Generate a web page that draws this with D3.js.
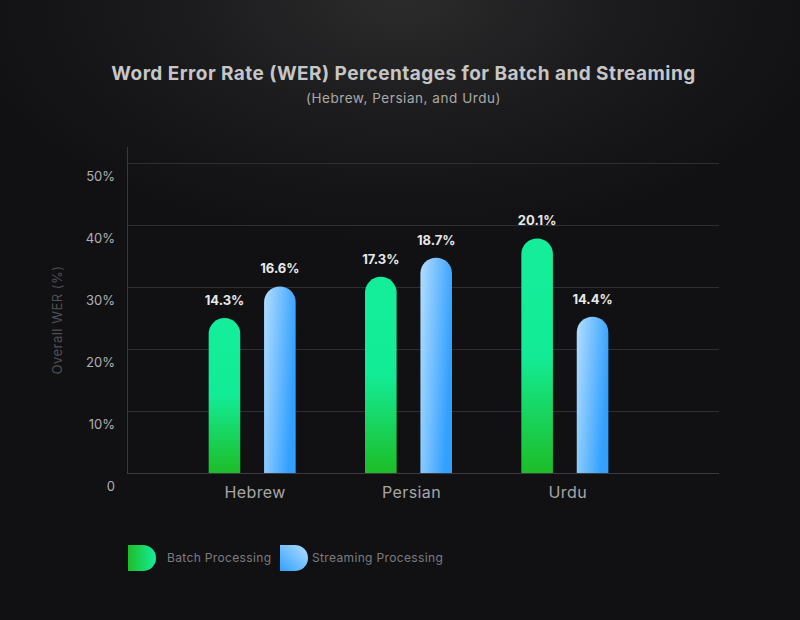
<!DOCTYPE html>
<html>
<head>
<meta charset="utf-8">
<script src="https://cdn.jsdelivr.net/npm/d3@7"></script>
<style>
  html, body { margin: 0; padding: 0; background: #111114; }
  svg { display: block; }
  text { font-family: Inter, "Noto Sans", sans-serif; }
</style>
</head>
<body>
<svg id="chart" width="800" height="620"></svg>
<script>
// ---- data ----
const categories = ["Hebrew", "Persian", "Urdu"];
const seriesNames = ["Batch Processing", "Streaming Processing"];
const batchValues = [14.3, 17.3, 20.1];
const streamingValues = [16.6, 18.7, 14.4];
const yTickValues = [0, 10, 20, 30, 40, 50];
const yTickLabels = ["0", "10%", "20%", "30%", "40%", "50%"];

const titleText = "Word Error Rate (WER) Percentages for Batch and Streaming";
const subtitleText = "(Hebrew, Persian, and Urdu)";
const yAxisTitle = "Overall WER (%)";

// ---- layout ----
const W = 800, H = 620;
const plot = { left: 127, right: 719, top: 163, bottom: 473 };

const svg = d3.select("#chart");
const defs = svg.append("defs");

// background glow
const bg = defs.append("radialGradient").attr("id", "bgGlow")
  .attr("gradientUnits", "userSpaceOnUse")
  .attr("cx", 400).attr("cy", 0).attr("r", 440)
  .attr("gradientTransform", "translate(400,0) scale(1,0.55) translate(-400,0)");
bg.append("stop").attr("offset", "0%").attr("stop-color", "#2b2b2c");
bg.append("stop").attr("offset", "55%").attr("stop-color", "#1a1a1c");
bg.append("stop").attr("offset", "100%").attr("stop-color", "#111114");
svg.append("rect").attr("width", W).attr("height", H).attr("fill", "#111114");
svg.append("rect").attr("width", W).attr("height", H).attr("fill", "url(#bgGlow)");

// bar gradients
const gBatch = defs.append("linearGradient").attr("id", "gBatch")
  .attr("x1", 0).attr("y1", 0).attr("x2", 0).attr("y2", 1);
gBatch.append("stop").attr("offset", "0%").attr("stop-color", "#14ee9b");
gBatch.append("stop").attr("offset", "50%").attr("stop-color", "#13ec96");
gBatch.append("stop").attr("offset", "100%").attr("stop-color", "#1dbd27");

const gStream = defs.append("linearGradient").attr("id", "gStream")
  .attr("x1", 0).attr("y1", 0).attr("x2", 1).attr("y2", 0.35);
gStream.append("stop").attr("offset", "0%").attr("stop-color", "#b3deff");
gStream.append("stop").attr("offset", "100%").attr("stop-color", "#32a0ff");

const gBatchLeg = defs.append("linearGradient").attr("id", "gBatchLeg")
  .attr("x1", 0).attr("y1", 0).attr("x2", 1).attr("y2", 0);
gBatchLeg.append("stop").attr("offset", "0%").attr("stop-color", "#1dbd27");
gBatchLeg.append("stop").attr("offset", "100%").attr("stop-color", "#14ee9b");

const gStreamLeg = defs.append("linearGradient").attr("id", "gStreamLeg")
  .attr("x1", 0).attr("y1", 1).attr("x2", 1).attr("y2", 0);
gStreamLeg.append("stop").attr("offset", "0%").attr("stop-color", "#32a0ff");
gStreamLeg.append("stop").attr("offset", "100%").attr("stop-color", "#b3deff");

const fills = ["url(#gBatch)", "url(#gStream)"];
const legFills = ["url(#gBatchLeg)", "url(#gStreamLeg)"];

// ---- scales ----
const yAxis = d3.scaleLinear().domain([0, 50]).range([plot.bottom, plot.top]);
// bar heights as drawn in the reference design
const yBar = d3.scaleLinear().domain([3.0, 25.6]).range([plot.bottom, plot.top]);
const x0 = d3.scaleBand().domain(categories).range([174, 643]).padding(0);
const x1 = d3.scaleBand().domain(seriesNames).range([-43.5, 43.5]).paddingInner(0.43);

// ---- title ----
svg.append("text").attr("x", 403.5).attr("y", 80).attr("text-anchor", "middle")
  .attr("font-size", 19).attr("font-weight", 700).attr("letter-spacing", 0.45).attr("fill", "#c6c6c6")
  .text(titleText);
svg.append("text").attr("x", 403.5).attr("y", 103).attr("text-anchor", "middle")
  .attr("font-size", 13.5).attr("letter-spacing", 0.55).attr("fill", "#a9a9a9")
  .text(subtitleText);

// ---- grid ----
const grid = svg.append("g");
grid.selectAll("line").data(yTickValues).join("line")
  .attr("x1", plot.left).attr("x2", plot.right)
  .attr("y1", d => yAxis(d) + 0.5).attr("y2", d => yAxis(d) + 0.5)
  .attr("stroke", d => d === 0 ? "#3a3a40" : "#2e2e34").attr("stroke-width", 1);
svg.append("line").attr("x1", plot.left + 0.5).attr("x2", plot.left + 0.5)
  .attr("y1", 147).attr("y2", plot.bottom)
  .attr("stroke", "#38383e").attr("stroke-width", 1);

// y tick labels
svg.append("g").selectAll("text").data(yTickValues).join("text")
  .attr("x", 115).attr("y", d => yAxis(d) + 18)
  .attr("text-anchor", "end")
  .attr("font-size", 13).attr("fill", "#b0b0b0")
  .text((d, i) => yTickLabels[i]);

// y axis title
svg.append("text")
  .attr("transform", "translate(62,320) rotate(-90)")
  .attr("text-anchor", "middle")
  .attr("font-size", 13).attr("letter-spacing", 0.5).attr("fill", "#505055")
  .text(yAxisTitle);

// x labels
svg.append("g").selectAll("text").data(categories).join("text")
  .attr("x", d => x0(d) + x0.bandwidth() / 2 + 3)
  .attr("y", 498)
  .attr("text-anchor", "middle")
  .attr("font-size", 16).attr("letter-spacing", 0.4).attr("fill", "#a6a6a6")
  .text(d => d);

// ---- bars ----
function barPath(x, top, w, bottom) {
  const r = w / 2;
  return `M${x},${bottom} L${x},${top + r} A${r},${r} 0 0 1 ${x + w},${top + r} L${x + w},${bottom} Z`;
}

const rows = categories.map((c, i) => ({
  cat: c,
  vals: [
    { s: seriesNames[0], v: batchValues[i], k: 0 },
    { s: seriesNames[1], v: streamingValues[i], k: 1 }
  ]
}));

const groups = svg.append("g").selectAll("g").data(rows).join("g")
  .attr("transform", d => `translate(${x0(d.cat) + x0.bandwidth() / 2},0)`);

groups.selectAll("path").data(d => d.vals).join("path")
  .attr("d", d => barPath(x1(d.s), yBar(d.v), x1.bandwidth(), plot.bottom))
  .attr("fill", d => fills[d.k]);

groups.selectAll("text").data(d => d.vals).join("text")
  .attr("x", d => x1(d.s) + x1.bandwidth() / 2)
  .attr("y", d => yBar(d.v) - 13)
  .attr("text-anchor", "middle")
  .attr("font-size", 13).attr("font-weight", 700).attr("fill", "#e8e8e8")
  .text(d => d.v.toFixed(1) + "%");

// ---- legend ----
const legendX = [128, 280];
const leg = svg.append("g").selectAll("g").data(seriesNames).join("g")
  .attr("transform", (d, i) => `translate(${legendX[i]},545)`);
leg.append("path")
  .attr("d", "M0,0 L15,0 A13,13 0 0 1 15,26 L0,26 Z")
  .attr("fill", (d, i) => legFills[i]);
leg.append("text").attr("x", (d, i) => i === 0 ? 39 : 32).attr("y", 17)
  .attr("font-size", 12).attr("letter-spacing", 0.35).attr("fill", "#7c7c80")
  .text(d => d);
</script>
</body>
</html>
